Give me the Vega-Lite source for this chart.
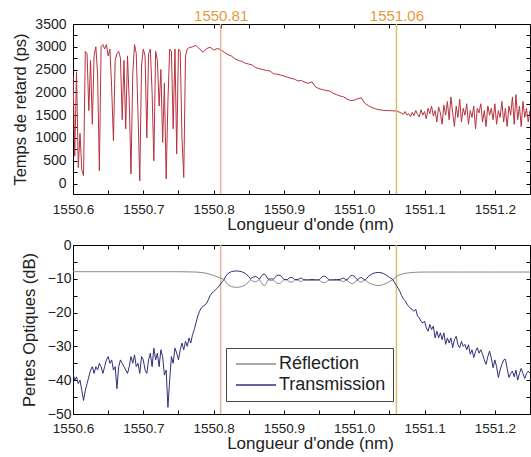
{
"$schema": "https://vega.github.io/schema/vega-lite/v6.json",
"padding": {"left": 12, "top": 8, "right": 0, "bottom": 0},
"bounds": "flush",
"spacing": 51,
"background": "#ffffff",
"config": {
  "view": {"stroke": "#000000", "strokeWidth": 1},
  "font": "Liberation Sans",
  "axis": {"grid": false, "domain": false, "tickSize": -4, "tickColor": "#000000", "tickWidth": 1,
    "labelFont": "Liberation Sans", "labelFontSize": 14, "labelColor": "#222222",
    "titleFont": "Liberation Sans", "titleFontSize": 17.5, "titleFontWeight": "normal", "titleColor": "#222222"}
},
"datasets": {
  "refs": [{"lambda": 1550.81, "label": "1550.81"}, {"lambda": 1551.06, "label": "1551.06"}],
  "delay": [
{"lambda":1550.6,"delay":2400},{"lambda":1550.6025,"delay":600},{"lambda":1550.605,"delay":2450},{"lambda":1550.6075,"delay":350},{"lambda":1550.61,"delay":1100},{"lambda":1550.6125,"delay":300},{"lambda":1550.615,"delay":170},{"lambda":1550.6175,"delay":2900},{"lambda":1550.62,"delay":2850},{"lambda":1550.6225,"delay":1600},{"lambda":1550.625,"delay":2700},{"lambda":1550.6275,"delay":1300},{"lambda":1550.63,"delay":2800},{"lambda":1550.6325,"delay":3000},{"lambda":1550.635,"delay":2400},{"lambda":1550.6375,"delay":280},{"lambda":1550.64,"delay":3000},{"lambda":1550.6425,"delay":3050},{"lambda":1550.645,"delay":2950},{"lambda":1550.6475,"delay":3050},{"lambda":1550.65,"delay":2800},{"lambda":1550.6525,"delay":2950},{"lambda":1550.655,"delay":2100},{"lambda":1550.6575,"delay":940},{"lambda":1550.66,"delay":2700},{"lambda":1550.6625,"delay":2850},{"lambda":1550.665,"delay":2900},{"lambda":1550.6675,"delay":2750},{"lambda":1550.67,"delay":1400},{"lambda":1550.6725,"delay":2700},{"lambda":1550.675,"delay":1200},{"lambda":1550.6775,"delay":2800},{"lambda":1550.68,"delay":1800},{"lambda":1550.6825,"delay":210},{"lambda":1550.685,"delay":2400},{"lambda":1550.6875,"delay":3050},{"lambda":1550.69,"delay":2850},{"lambda":1550.6925,"delay":1500},{"lambda":1550.695,"delay":60},{"lambda":1550.6975,"delay":2600},{"lambda":1550.7,"delay":2950},{"lambda":1550.7025,"delay":2800},{"lambda":1550.705,"delay":1000},{"lambda":1550.7075,"delay":2850},{"lambda":1550.71,"delay":2950},{"lambda":1550.7125,"delay":2000},{"lambda":1550.715,"delay":500},{"lambda":1550.7175,"delay":2900},{"lambda":1550.72,"delay":2700},{"lambda":1550.7225,"delay":1700},{"lambda":1550.725,"delay":2500},{"lambda":1550.7275,"delay":900},{"lambda":1550.73,"delay":2200},{"lambda":1550.7325,"delay":100},{"lambda":1550.735,"delay":1800},{"lambda":1550.7375,"delay":2950},{"lambda":1550.74,"delay":2900},{"lambda":1550.7425,"delay":1200},{"lambda":1550.745,"delay":2950},{"lambda":1550.7475,"delay":650},{"lambda":1550.75,"delay":2950},{"lambda":1550.7525,"delay":2900},{"lambda":1550.755,"delay":1000},{"lambda":1550.7575,"delay":130},{"lambda":1550.76,"delay":2800},{"lambda":1550.7625,"delay":2950},{"lambda":1550.765,"delay":2980},
{"lambda":1550.77,"delay":3000},{"lambda":1550.775,"delay":3030},{"lambda":1550.78,"delay":2950},{"lambda":1550.785,"delay":2880},{"lambda":1550.79,"delay":2960},{"lambda":1550.795,"delay":2990},{"lambda":1550.8,"delay":2930},{"lambda":1550.805,"delay":2960},{"lambda":1550.81,"delay":2940},{"lambda":1550.815,"delay":2880},{"lambda":1550.82,"delay":2830},{"lambda":1550.825,"delay":2800},{"lambda":1550.83,"delay":2740},{"lambda":1550.835,"delay":2700},{"lambda":1550.84,"delay":2680},{"lambda":1550.845,"delay":2640},{"lambda":1550.85,"delay":2620},{"lambda":1550.855,"delay":2600},{"lambda":1550.86,"delay":2540},{"lambda":1550.865,"delay":2520},{"lambda":1550.87,"delay":2500},{"lambda":1550.875,"delay":2480},{"lambda":1550.88,"delay":2470},{"lambda":1550.885,"delay":2410},{"lambda":1550.89,"delay":2400},{"lambda":1550.895,"delay":2380},{"lambda":1550.9,"delay":2360},{"lambda":1550.905,"delay":2330},{"lambda":1550.91,"delay":2310},{"lambda":1550.915,"delay":2290},{"lambda":1550.92,"delay":2250},{"lambda":1550.925,"delay":2260},{"lambda":1550.93,"delay":2220},{"lambda":1550.935,"delay":2200},{"lambda":1550.94,"delay":2230},{"lambda":1550.945,"delay":2120},{"lambda":1550.95,"delay":2080},{"lambda":1550.955,"delay":2060},{"lambda":1550.96,"delay":2040},{"lambda":1550.965,"delay":2030},{"lambda":1550.97,"delay":1980},{"lambda":1550.975,"delay":1950},{"lambda":1550.98,"delay":1920},{"lambda":1550.985,"delay":1900},{"lambda":1550.99,"delay":1850},{"lambda":1550.995,"delay":1820},{"lambda":1551.0,"delay":1830},{"lambda":1551.005,"delay":1860},{"lambda":1551.01,"delay":1880},{"lambda":1551.015,"delay":1760},{"lambda":1551.02,"delay":1710},{"lambda":1551.025,"delay":1670},{"lambda":1551.03,"delay":1640},{"lambda":1551.035,"delay":1620},{"lambda":1551.04,"delay":1610},{"lambda":1551.045,"delay":1600},{"lambda":1551.05,"delay":1600},{"lambda":1551.055,"delay":1595},{"lambda":1551.06,"delay":1590},{"lambda":1551.065,"delay":1560},
{"lambda":1551.0675,"delay":1540},{"lambda":1551.07,"delay":1520},{"lambda":1551.0725,"delay":1580},{"lambda":1551.075,"delay":1500},{"lambda":1551.0775,"delay":1530},{"lambda":1551.08,"delay":1470},{"lambda":1551.0825,"delay":1560},{"lambda":1551.085,"delay":1490},{"lambda":1551.0875,"delay":1600},{"lambda":1551.09,"delay":1520},{"lambda":1551.0925,"delay":1460},{"lambda":1551.095,"delay":1620},{"lambda":1551.0975,"delay":1500},{"lambda":1551.1,"delay":1580},{"lambda":1551.1025,"delay":1420},{"lambda":1551.105,"delay":1650},{"lambda":1551.1075,"delay":1530},{"lambda":1551.11,"delay":1700},{"lambda":1551.1125,"delay":1480},{"lambda":1551.115,"delay":1600},{"lambda":1551.1175,"delay":1350},{"lambda":1551.12,"delay":1680},{"lambda":1551.1225,"delay":1550},{"lambda":1551.125,"delay":1300},{"lambda":1551.1275,"delay":1720},{"lambda":1551.13,"delay":1500},{"lambda":1551.1325,"delay":1800},{"lambda":1551.135,"delay":1400},{"lambda":1551.1375,"delay":1900},{"lambda":1551.14,"delay":1550},{"lambda":1551.1425,"delay":1250},{"lambda":1551.145,"delay":1700},{"lambda":1551.1475,"delay":1450},{"lambda":1551.15,"delay":1850},{"lambda":1551.1525,"delay":1350},{"lambda":1551.155,"delay":1650},{"lambda":1551.1575,"delay":1500},{"lambda":1551.16,"delay":1750},{"lambda":1551.1625,"delay":1300},{"lambda":1551.165,"delay":1600},{"lambda":1551.1675,"delay":1450},{"lambda":1551.17,"delay":1700},{"lambda":1551.1725,"delay":1200},{"lambda":1551.175,"delay":1650},{"lambda":1551.1775,"delay":1550},{"lambda":1551.18,"delay":1750},{"lambda":1551.1825,"delay":1350},{"lambda":1551.185,"delay":1600},{"lambda":1551.1875,"delay":1250},{"lambda":1551.19,"delay":1700},{"lambda":1551.1925,"delay":1500},{"lambda":1551.195,"delay":1650},{"lambda":1551.1975,"delay":1400},{"lambda":1551.2,"delay":1750},{"lambda":1551.2025,"delay":1300},{"lambda":1551.205,"delay":1600},{"lambda":1551.2075,"delay":1450},{"lambda":1551.21,"delay":1800},{"lambda":1551.2125,"delay":1350},{"lambda":1551.215,"delay":1650},{"lambda":1551.2175,"delay":1250},{"lambda":1551.22,"delay":1700},{"lambda":1551.2225,"delay":1500},{"lambda":1551.225,"delay":1900},{"lambda":1551.2275,"delay":1300},{"lambda":1551.23,"delay":1950},{"lambda":1551.2325,"delay":1400},{"lambda":1551.235,"delay":1700},{"lambda":1551.2375,"delay":1250},{"lambda":1551.24,"delay":1800},{"lambda":1551.2425,"delay":1450},{"lambda":1551.245,"delay":1650},{"lambda":1551.2475,"delay":1350},{"lambda":1551.25,"delay":1600}
  ],
  "loss": [
{"series":"Réflection","lambda":1550.6,"dB":-7.9},{"series":"Réflection","lambda":1550.65,"dB":-7.9},{"series":"Réflection","lambda":1550.7,"dB":-7.9},{"series":"Réflection","lambda":1550.75,"dB":-7.9},{"series":"Réflection","lambda":1550.765,"dB":-7.95},{"series":"Réflection","lambda":1550.775,"dB":-8.0},{"series":"Réflection","lambda":1550.785,"dB":-8.2},{"series":"Réflection","lambda":1550.79,"dB":-8.4},{"series":"Réflection","lambda":1550.795,"dB":-8.7},{"series":"Réflection","lambda":1550.8,"dB":-9.0},{"series":"Réflection","lambda":1550.805,"dB":-9.4},{"series":"Réflection","lambda":1550.81,"dB":-9.8},
{"series":"Transmission","lambda":1550.6,"dB":-38},{"series":"Transmission","lambda":1550.6025,"dB":-40},{"series":"Transmission","lambda":1550.605,"dB":-39},{"series":"Transmission","lambda":1550.6075,"dB":-41},{"series":"Transmission","lambda":1550.61,"dB":-40},{"series":"Transmission","lambda":1550.6125,"dB":-43},{"series":"Transmission","lambda":1550.615,"dB":-46},{"series":"Transmission","lambda":1550.6175,"dB":-43},{"series":"Transmission","lambda":1550.62,"dB":-41},{"series":"Transmission","lambda":1550.6225,"dB":-39},{"series":"Transmission","lambda":1550.625,"dB":-37},{"series":"Transmission","lambda":1550.6275,"dB":-36},{"series":"Transmission","lambda":1550.63,"dB":-38},{"series":"Transmission","lambda":1550.6325,"dB":-36},{"series":"Transmission","lambda":1550.635,"dB":-37},{"series":"Transmission","lambda":1550.6375,"dB":-35},{"series":"Transmission","lambda":1550.64,"dB":-36},{"series":"Transmission","lambda":1550.6425,"dB":-38},{"series":"Transmission","lambda":1550.645,"dB":-36},{"series":"Transmission","lambda":1550.6475,"dB":-34},{"series":"Transmission","lambda":1550.65,"dB":-33},{"series":"Transmission","lambda":1550.6525,"dB":-35},{"series":"Transmission","lambda":1550.655,"dB":-34},{"series":"Transmission","lambda":1550.6575,"dB":-37},{"series":"Transmission","lambda":1550.66,"dB":-36},{"series":"Transmission","lambda":1550.6625,"dB":-42.5},{"series":"Transmission","lambda":1550.665,"dB":-36},{"series":"Transmission","lambda":1550.6675,"dB":-34},{"series":"Transmission","lambda":1550.67,"dB":-35},{"series":"Transmission","lambda":1550.6725,"dB":-36},{"series":"Transmission","lambda":1550.675,"dB":-37},{"series":"Transmission","lambda":1550.6775,"dB":-38},{"series":"Transmission","lambda":1550.68,"dB":-36},{"series":"Transmission","lambda":1550.6825,"dB":-33},{"series":"Transmission","lambda":1550.685,"dB":-35},{"series":"Transmission","lambda":1550.6875,"dB":-32.5},{"series":"Transmission","lambda":1550.69,"dB":-36},{"series":"Transmission","lambda":1550.6925,"dB":-35},{"series":"Transmission","lambda":1550.695,"dB":-38},{"series":"Transmission","lambda":1550.6975,"dB":-33},{"series":"Transmission","lambda":1550.7,"dB":-34},{"series":"Transmission","lambda":1550.7025,"dB":-37},{"series":"Transmission","lambda":1550.705,"dB":-38},{"series":"Transmission","lambda":1550.7075,"dB":-34},{"series":"Transmission","lambda":1550.71,"dB":-32},{"series":"Transmission","lambda":1550.7125,"dB":-36},{"series":"Transmission","lambda":1550.715,"dB":-30.5},{"series":"Transmission","lambda":1550.7175,"dB":-34},{"series":"Transmission","lambda":1550.72,"dB":-32},{"series":"Transmission","lambda":1550.7225,"dB":-36},{"series":"Transmission","lambda":1550.725,"dB":-31},{"series":"Transmission","lambda":1550.7275,"dB":-33},{"series":"Transmission","lambda":1550.73,"dB":-38.5},{"series":"Transmission","lambda":1550.7325,"dB":-37},{"series":"Transmission","lambda":1550.735,"dB":-48},{"series":"Transmission","lambda":1550.7375,"dB":-40},{"series":"Transmission","lambda":1550.74,"dB":-33},{"series":"Transmission","lambda":1550.7425,"dB":-35},{"series":"Transmission","lambda":1550.745,"dB":-30.5},{"series":"Transmission","lambda":1550.7475,"dB":-32},{"series":"Transmission","lambda":1550.75,"dB":-34},{"series":"Transmission","lambda":1550.7525,"dB":-31},{"series":"Transmission","lambda":1550.755,"dB":-29},{"series":"Transmission","lambda":1550.7575,"dB":-31},{"series":"Transmission","lambda":1550.76,"dB":-28.5},{"series":"Transmission","lambda":1550.7625,"dB":-30},{"series":"Transmission","lambda":1550.765,"dB":-27.5},{"series":"Transmission","lambda":1550.7675,"dB":-29},{"series":"Transmission","lambda":1550.77,"dB":-26.5},{"series":"Transmission","lambda":1550.7725,"dB":-25},{"series":"Transmission","lambda":1550.775,"dB":-23},{"series":"Transmission","lambda":1550.7775,"dB":-21},{"series":"Transmission","lambda":1550.78,"dB":-19.6},{"series":"Transmission","lambda":1550.7825,"dB":-18.6},{"series":"Transmission","lambda":1550.785,"dB":-18.1},{"series":"Transmission","lambda":1550.7875,"dB":-17.8},{"series":"Transmission","lambda":1550.79,"dB":-17.2},{"series":"Transmission","lambda":1550.7925,"dB":-16.2},{"series":"Transmission","lambda":1550.795,"dB":-15},{"series":"Transmission","lambda":1550.7975,"dB":-14.2},{"series":"Transmission","lambda":1550.8,"dB":-13.8},{"series":"Transmission","lambda":1550.8025,"dB":-13.3},{"series":"Transmission","lambda":1550.805,"dB":-12.8},{"series":"Transmission","lambda":1550.8075,"dB":-12.2},{"series":"Transmission","lambda":1550.81,"dB":-11.5},{"series":"Transmission","lambda":1550.8125,"dB":-10.8},
{"series":"Transmission","lambda":1550.815,"dB":-10.2},{"series":"Réflection","lambda":1550.815,"dB":-10.2},
{"series":"Transmission","lambda":1550.8175,"dB":-9.2},{"series":"Réflection","lambda":1550.8175,"dB":-11.0},
{"series":"Transmission","lambda":1550.82,"dB":-8.5},{"series":"Réflection","lambda":1550.82,"dB":-11.7},
{"series":"Transmission","lambda":1550.825,"dB":-7.9},{"series":"Réflection","lambda":1550.825,"dB":-12.3},
{"series":"Transmission","lambda":1550.83,"dB":-7.7},{"series":"Réflection","lambda":1550.83,"dB":-12.5},
{"series":"Transmission","lambda":1550.835,"dB":-7.7},{"series":"Réflection","lambda":1550.835,"dB":-12.5},
{"series":"Transmission","lambda":1550.84,"dB":-7.9},{"series":"Réflection","lambda":1550.84,"dB":-12.3},
{"series":"Transmission","lambda":1550.845,"dB":-8.4},{"series":"Réflection","lambda":1550.845,"dB":-11.8},
{"series":"Transmission","lambda":1550.85,"dB":-9.3},{"series":"Réflection","lambda":1550.85,"dB":-10.9},
{"series":"Transmission","lambda":1550.8525,"dB":-10.0},{"series":"Réflection","lambda":1550.8525,"dB":-10.2},
{"series":"Transmission","lambda":1550.855,"dB":-9.6},{"series":"Réflection","lambda":1550.855,"dB":-10.6},
{"series":"Transmission","lambda":1550.86,"dB":-9.3},{"series":"Réflection","lambda":1550.86,"dB":-10.9},
{"series":"Transmission","lambda":1550.8625,"dB":-9.6},{"series":"Réflection","lambda":1550.8625,"dB":-10.6},
{"series":"Transmission","lambda":1550.865,"dB":-10.1},{"series":"Réflection","lambda":1550.865,"dB":-10.2},
{"series":"Transmission","lambda":1550.8675,"dB":-9.4},{"series":"Réflection","lambda":1550.8675,"dB":-11.0},
{"series":"Transmission","lambda":1550.87,"dB":-8.7},{"series":"Réflection","lambda":1550.87,"dB":-11.8},
{"series":"Transmission","lambda":1550.8725,"dB":-8.6},{"series":"Réflection","lambda":1550.8725,"dB":-12.0},
{"series":"Transmission","lambda":1550.875,"dB":-9.2},{"series":"Réflection","lambda":1550.875,"dB":-11.3},
{"series":"Transmission","lambda":1550.8775,"dB":-10.1},{"series":"Réflection","lambda":1550.8775,"dB":-10.3},
{"series":"Transmission","lambda":1550.88,"dB":-10.1},{"series":"Réflection","lambda":1550.88,"dB":-10.4},
{"series":"Transmission","lambda":1550.8825,"dB":-10.0},{"series":"Réflection","lambda":1550.8825,"dB":-10.5},
{"series":"Transmission","lambda":1550.885,"dB":-10.1},{"series":"Réflection","lambda":1550.885,"dB":-10.4},
{"series":"Transmission","lambda":1550.8875,"dB":-9.6},{"series":"Réflection","lambda":1550.8875,"dB":-10.8},
{"series":"Transmission","lambda":1550.89,"dB":-9.0},{"series":"Réflection","lambda":1550.89,"dB":-11.3},
{"series":"Transmission","lambda":1550.8925,"dB":-8.9},{"series":"Réflection","lambda":1550.8925,"dB":-11.4},
{"series":"Transmission","lambda":1550.895,"dB":-9.0},{"series":"Réflection","lambda":1550.895,"dB":-11.3},
{"series":"Transmission","lambda":1550.8975,"dB":-9.6},{"series":"Réflection","lambda":1550.8975,"dB":-10.8},
{"series":"Transmission","lambda":1550.9,"dB":-10.2},{"series":"Réflection","lambda":1550.9,"dB":-10.3},
{"series":"Transmission","lambda":1550.905,"dB":-10.2},{"series":"Réflection","lambda":1550.905,"dB":-10.4},
{"series":"Transmission","lambda":1550.9075,"dB":-9.8},{"series":"Réflection","lambda":1550.9075,"dB":-10.8},
{"series":"Transmission","lambda":1550.91,"dB":-9.6},{"series":"Réflection","lambda":1550.91,"dB":-11.0},
{"series":"Transmission","lambda":1550.9125,"dB":-9.7},{"series":"Réflection","lambda":1550.9125,"dB":-10.9},
{"series":"Transmission","lambda":1550.915,"dB":-10.2},{"series":"Réflection","lambda":1550.915,"dB":-10.4},
{"series":"Transmission","lambda":1550.92,"dB":-10.2},{"series":"Réflection","lambda":1550.92,"dB":-10.4},
{"series":"Transmission","lambda":1550.9225,"dB":-9.9},{"series":"Réflection","lambda":1550.9225,"dB":-10.7},
{"series":"Transmission","lambda":1550.925,"dB":-9.8},{"series":"Réflection","lambda":1550.925,"dB":-10.8},
{"series":"Transmission","lambda":1550.9275,"dB":-10.2},{"series":"Réflection","lambda":1550.9275,"dB":-10.4},
{"series":"Transmission","lambda":1550.93,"dB":-10.3},{"series":"Réflection","lambda":1550.93,"dB":-10.4},
{"series":"Transmission","lambda":1550.935,"dB":-10.3},{"series":"Réflection","lambda":1550.935,"dB":-10.4},
{"series":"Transmission","lambda":1550.94,"dB":-10.2},{"series":"Réflection","lambda":1550.94,"dB":-10.5},
{"series":"Transmission","lambda":1550.945,"dB":-10.3},{"series":"Réflection","lambda":1550.945,"dB":-10.4},
{"series":"Transmission","lambda":1550.95,"dB":-10.3},{"series":"Réflection","lambda":1550.95,"dB":-10.4},
{"series":"Transmission","lambda":1550.9525,"dB":-9.8},{"series":"Réflection","lambda":1550.9525,"dB":-10.8},
{"series":"Transmission","lambda":1550.955,"dB":-9.3},{"series":"Réflection","lambda":1550.955,"dB":-11.1},
{"series":"Transmission","lambda":1550.9575,"dB":-9.2},{"series":"Réflection","lambda":1550.9575,"dB":-11.2},
{"series":"Transmission","lambda":1550.96,"dB":-9.4},{"series":"Réflection","lambda":1550.96,"dB":-11.0},
{"series":"Transmission","lambda":1550.9625,"dB":-10.0},{"series":"Réflection","lambda":1550.9625,"dB":-10.5},
{"series":"Transmission","lambda":1550.965,"dB":-10.3},{"series":"Réflection","lambda":1550.965,"dB":-10.4},
{"series":"Transmission","lambda":1550.97,"dB":-10.3},{"series":"Réflection","lambda":1550.97,"dB":-10.4},
{"series":"Transmission","lambda":1550.975,"dB":-10.2},{"series":"Réflection","lambda":1550.975,"dB":-10.5},
{"series":"Transmission","lambda":1550.98,"dB":-10.2},{"series":"Réflection","lambda":1550.98,"dB":-10.5},
{"series":"Transmission","lambda":1550.9825,"dB":-9.9},{"series":"Réflection","lambda":1550.9825,"dB":-10.7},
{"series":"Transmission","lambda":1550.985,"dB":-9.8},{"series":"Réflection","lambda":1550.985,"dB":-10.8},
{"series":"Transmission","lambda":1550.9875,"dB":-10.2},{"series":"Réflection","lambda":1550.9875,"dB":-10.5},
{"series":"Transmission","lambda":1550.99,"dB":-10.3},{"series":"Réflection","lambda":1550.99,"dB":-10.4},
{"series":"Transmission","lambda":1550.9925,"dB":-9.6},{"series":"Réflection","lambda":1550.9925,"dB":-11.0},
{"series":"Transmission","lambda":1550.995,"dB":-9.1},{"series":"Réflection","lambda":1550.995,"dB":-11.3},
{"series":"Transmission","lambda":1550.9975,"dB":-9.0},{"series":"Réflection","lambda":1550.9975,"dB":-11.4},
{"series":"Transmission","lambda":1551.0,"dB":-9.2},{"series":"Réflection","lambda":1551.0,"dB":-11.2},
{"series":"Transmission","lambda":1551.0025,"dB":-9.9},{"series":"Réflection","lambda":1551.0025,"dB":-10.6},
{"series":"Transmission","lambda":1551.005,"dB":-10.3},{"series":"Réflection","lambda":1551.005,"dB":-10.4},
{"series":"Transmission","lambda":1551.0075,"dB":-9.8},{"series":"Réflection","lambda":1551.0075,"dB":-10.8},
{"series":"Transmission","lambda":1551.01,"dB":-9.6},{"series":"Réflection","lambda":1551.01,"dB":-11.0},
{"series":"Transmission","lambda":1551.0125,"dB":-10.0},{"series":"Réflection","lambda":1551.0125,"dB":-10.6},
{"series":"Transmission","lambda":1551.015,"dB":-10.3},{"series":"Réflection","lambda":1551.015,"dB":-10.4},
{"series":"Transmission","lambda":1551.0175,"dB":-10.0},{"series":"Réflection","lambda":1551.0175,"dB":-10.6},
{"series":"Transmission","lambda":1551.02,"dB":-9.3},{"series":"Réflection","lambda":1551.02,"dB":-11.1},
{"series":"Transmission","lambda":1551.025,"dB":-8.6},{"series":"Réflection","lambda":1551.025,"dB":-11.6},
{"series":"Transmission","lambda":1551.03,"dB":-8.2},{"series":"Réflection","lambda":1551.03,"dB":-11.9},
{"series":"Transmission","lambda":1551.035,"dB":-8.1},{"series":"Réflection","lambda":1551.035,"dB":-12.0},
{"series":"Transmission","lambda":1551.04,"dB":-8.3},{"series":"Réflection","lambda":1551.04,"dB":-11.8},
{"series":"Transmission","lambda":1551.045,"dB":-8.8},{"series":"Réflection","lambda":1551.045,"dB":-11.4},
{"series":"Transmission","lambda":1551.05,"dB":-9.6},{"series":"Réflection","lambda":1551.05,"dB":-10.8},
{"series":"Transmission","lambda":1551.055,"dB":-10.2},{"series":"Réflection","lambda":1551.055,"dB":-10.3},
{"series":"Réflection","lambda":1551.06,"dB":-9.3},{"series":"Réflection","lambda":1551.065,"dB":-8.8},{"series":"Réflection","lambda":1551.07,"dB":-8.5},{"series":"Réflection","lambda":1551.075,"dB":-8.3},{"series":"Réflection","lambda":1551.08,"dB":-8.15},{"series":"Réflection","lambda":1551.09,"dB":-8.05},{"series":"Réflection","lambda":1551.1,"dB":-8.0},{"series":"Réflection","lambda":1551.15,"dB":-8.0},{"series":"Réflection","lambda":1551.2,"dB":-8.0},{"series":"Réflection","lambda":1551.25,"dB":-8.0},
{"series":"Transmission","lambda":1551.0575,"dB":-11.2},{"series":"Transmission","lambda":1551.06,"dB":-12},{"series":"Transmission","lambda":1551.0625,"dB":-12.8},{"series":"Transmission","lambda":1551.065,"dB":-13.8},{"series":"Transmission","lambda":1551.0675,"dB":-15},{"series":"Transmission","lambda":1551.07,"dB":-16},{"series":"Transmission","lambda":1551.0725,"dB":-16.5},{"series":"Transmission","lambda":1551.075,"dB":-17.5},{"series":"Transmission","lambda":1551.0775,"dB":-18.2},{"series":"Transmission","lambda":1551.08,"dB":-18.6},{"series":"Transmission","lambda":1551.0825,"dB":-19.2},{"series":"Transmission","lambda":1551.085,"dB":-19.6},{"series":"Transmission","lambda":1551.0875,"dB":-19},{"series":"Transmission","lambda":1551.09,"dB":-21},{"series":"Transmission","lambda":1551.0925,"dB":-21.6},{"series":"Transmission","lambda":1551.095,"dB":-22.5},{"series":"Transmission","lambda":1551.0975,"dB":-23.1},{"series":"Transmission","lambda":1551.1,"dB":-22.5},{"series":"Transmission","lambda":1551.1025,"dB":-24.5},{"series":"Transmission","lambda":1551.105,"dB":-25.5},{"series":"Transmission","lambda":1551.1075,"dB":-23.5},{"series":"Transmission","lambda":1551.11,"dB":-25},{"series":"Transmission","lambda":1551.1125,"dB":-24},{"series":"Transmission","lambda":1551.115,"dB":-27.5},{"series":"Transmission","lambda":1551.1175,"dB":-25.5},{"series":"Transmission","lambda":1551.12,"dB":-27.5},{"series":"Transmission","lambda":1551.1225,"dB":-26},{"series":"Transmission","lambda":1551.125,"dB":-28},{"series":"Transmission","lambda":1551.1275,"dB":-26},{"series":"Transmission","lambda":1551.13,"dB":-29.4},{"series":"Transmission","lambda":1551.1325,"dB":-27.5},{"series":"Transmission","lambda":1551.135,"dB":-29},{"series":"Transmission","lambda":1551.1375,"dB":-27.5},{"series":"Transmission","lambda":1551.14,"dB":-30.4},{"series":"Transmission","lambda":1551.1425,"dB":-28},{"series":"Transmission","lambda":1551.145,"dB":-27},{"series":"Transmission","lambda":1551.1475,"dB":-29.5},{"series":"Transmission","lambda":1551.15,"dB":-30.4},{"series":"Transmission","lambda":1551.1525,"dB":-28.5},{"series":"Transmission","lambda":1551.155,"dB":-30},{"series":"Transmission","lambda":1551.1575,"dB":-29.4},{"series":"Transmission","lambda":1551.16,"dB":-31},{"series":"Transmission","lambda":1551.1625,"dB":-29.5},{"series":"Transmission","lambda":1551.165,"dB":-32.3},{"series":"Transmission","lambda":1551.1675,"dB":-31},{"series":"Transmission","lambda":1551.17,"dB":-33.3},{"series":"Transmission","lambda":1551.1725,"dB":-31.5},{"series":"Transmission","lambda":1551.175,"dB":-30.4},{"series":"Transmission","lambda":1551.1775,"dB":-32},{"series":"Transmission","lambda":1551.18,"dB":-31},{"series":"Transmission","lambda":1551.1825,"dB":-32.3},{"series":"Transmission","lambda":1551.185,"dB":-34},{"series":"Transmission","lambda":1551.1875,"dB":-35.3},{"series":"Transmission","lambda":1551.19,"dB":-33},{"series":"Transmission","lambda":1551.1925,"dB":-31.4},{"series":"Transmission","lambda":1551.195,"dB":-33.5},{"series":"Transmission","lambda":1551.1975,"dB":-36.3},{"series":"Transmission","lambda":1551.2,"dB":-34},{"series":"Transmission","lambda":1551.2025,"dB":-36},{"series":"Transmission","lambda":1551.205,"dB":-39.2},{"series":"Transmission","lambda":1551.2075,"dB":-37},{"series":"Transmission","lambda":1551.21,"dB":-35.3},{"series":"Transmission","lambda":1551.2125,"dB":-34},{"series":"Transmission","lambda":1551.215,"dB":-33.8},{"series":"Transmission","lambda":1551.2175,"dB":-36.5},{"series":"Transmission","lambda":1551.22,"dB":-39.2},{"series":"Transmission","lambda":1551.2225,"dB":-38},{"series":"Transmission","lambda":1551.225,"dB":-37.3},{"series":"Transmission","lambda":1551.2275,"dB":-39},{"series":"Transmission","lambda":1551.23,"dB":-37},{"series":"Transmission","lambda":1551.2325,"dB":-40},{"series":"Transmission","lambda":1551.235,"dB":-38},{"series":"Transmission","lambda":1551.2375,"dB":-36.5},{"series":"Transmission","lambda":1551.24,"dB":-38},{"series":"Transmission","lambda":1551.2425,"dB":-39.5},{"series":"Transmission","lambda":1551.245,"dB":-38},{"series":"Transmission","lambda":1551.2475,"dB":-37.3},{"series":"Transmission","lambda":1551.25,"dB":-38}
  ]
},
"resolve": {"scale": {"color": "independent", "stroke": "independent"}, "legend": {"color": "independent"}},
"vconcat": [
  {
    "width": 457, "height": 170,
    "layer": [
      {
        "data": {"name": "delay"},
        "mark": {"type": "line", "color": "#b8323e", "strokeWidth": 1, "clip": true},
        "encoding": {
          "x": {"field": "lambda", "type": "quantitative", "scale": {"domain": [1550.6, 1551.25], "nice": false, "zero": false},
            "axis": {"orient": "bottom", "title": "Longueur d'onde (nm)", "titleX": 237, "titleFontSize": 17, "labelFontSize": 13.5, "values": [1550.6,1550.65,1550.7,1550.75,1550.8,1550.85,1550.9,1550.95,1551.0,1551.05,1551.1,1551.15,1551.2],
              "labelExpr": "abs(datum.value*10 - round(datum.value*10)) < 0.001 ? format(datum.value, '.1f') : ''", "labelPadding": 12, "titlePadding": 1, "labelFlush": false, "labelOverlap": false}},
          "y": {"field": "delay", "type": "quantitative", "scale": {"domain": [-230, 3500], "nice": false, "zero": false},
            "axis": {"orient": "left", "title": "Temps de retard (ps)", "titleFontSize": 16.5, "values": [0,250,500,750,1000,1250,1500,1750,2000,2250,2500,2750,3000,3250,3500],
              "labelExpr": "datum.value % 500 == 0 ? format(datum.value, 'd') : ''", "labelPadding": 11, "titlePadding": 6, "labelOverlap": false}}
        }
      },
      {
        "data": {"name": "refs"},
        "mark": {"type": "rule", "strokeWidth": 1.5},
        "encoding": {
          "x": {"field": "lambda", "type": "quantitative", "scale": {"domain": [1550.6, 1551.25], "nice": false, "zero": false},
            "axis": {"orient": "top", "title": null, "values": [1550.6,1550.65,1550.7,1550.75,1550.8,1550.81,1550.85,1550.9,1550.95,1551.0,1551.05,1551.06,1551.1,1551.15,1551.2],
              "labelExpr": "datum.value == 1550.81 ? '1550.81' : datum.value == 1551.06 ? '1551.06' : ''", "labelColor": "#e39b3a", "labelFontSize": 15, "labelPadding": 4.5, "labelOverlap": false, "labelFlush": false}},
          "y": {"datum": -230, "type": "quantitative", "axis": {"orient": "right", "title": null, "labels": false, "values": [0,250,500,750,1000,1250,1500,1750,2000,2250,2500,2750,3000,3250,3500]}},
          "y2": {"datum": 3500},
          "stroke": {"field": "label", "type": "nominal", "scale": {"domain": ["1550.81", "1551.06"], "range": ["#e8b496", "#d9bf6a"]}, "legend": null}
        }
      }
    ],
    "resolve": {"axis": {"x": "independent", "y": "independent"}}
  },
  {
    "width": 457, "height": 169,
    "layer": [
      {
        "data": {"name": "refs"},
        "mark": {"type": "rule", "strokeWidth": 1.5},
        "encoding": {
          "x": {"field": "lambda", "type": "quantitative", "scale": {"domain": [1550.6, 1551.25], "nice": false, "zero": false},
            "axis": {"orient": "top", "title": null, "labels": false, "values": [1550.6,1550.65,1550.7,1550.75,1550.8,1550.85,1550.9,1550.95,1551.0,1551.05,1551.1,1551.15,1551.2]}},
          "y": {"datum": -50, "type": "quantitative", "scale": {"domain": [-50, 0], "nice": false, "zero": false}, "axis": {"orient": "right", "title": null, "labels": false, "values": [-50,-45,-40,-35,-30,-25,-20,-15,-10,-5,0]}},
          "y2": {"datum": 0},
          "stroke": {"field": "label", "type": "nominal", "scale": {"domain": ["1550.81", "1551.06"], "range": ["#e8b496", "#d9bf6a"]}, "legend": null}
        }
      },
      {
        "data": {"name": "loss"},
        "mark": {"type": "line", "strokeWidth": 1, "clip": true},
        "encoding": {
          "x": {"field": "lambda", "type": "quantitative", "scale": {"domain": [1550.6, 1551.25], "nice": false, "zero": false},
            "axis": {"orient": "bottom", "title": "Longueur d'onde (nm)", "titleX": 237, "titleFontSize": 17, "labelFontSize": 13.5, "values": [1550.6,1550.65,1550.7,1550.75,1550.8,1550.85,1550.9,1550.95,1551.0,1551.05,1551.1,1551.15,1551.2],
              "labelExpr": "abs(datum.value*10 - round(datum.value*10)) < 0.001 ? format(datum.value, '.1f') : ''", "labelPadding": 11, "titlePadding": 1, "labelFlush": false, "labelOverlap": false}},
          "y": {"field": "dB", "type": "quantitative", "scale": {"domain": [-50, 0], "nice": false, "zero": false},
            "axis": {"orient": "left", "title": "Pertes Optiques (dB)", "titleFontSize": 16.5, "values": [-50,-45,-40,-35,-30,-25,-20,-15,-10,-5,0],
              "labelExpr": "datum.value % 10 == 0 ? format(datum.value, 'd') : ''", "labelPadding": 6, "titlePadding": 10, "labelOverlap": false}},
          "color": {"field": "series", "type": "nominal", "scale": {"domain": ["Réflection", "Transmission"], "range": ["#8a8a8a", "#2f2f7a"]},
            "legend": {"orient": "none", "legendX": 153, "legendY": 103, "title": null, "symbolType": "M-0.75,0H4.25", "symbolSize": 256, "symbolStrokeWidth": 1.5,
              "labelFont": "Liberation Sans", "labelFontSize": 18, "labelColor": "#222222", "labelOffset": 28, "strokeColor": "#444444", "fillColor": "#ffffff", "padding": 7, "rowPadding": 3, "cornerRadius": 0,
              "encode": {"symbols": {"update": {"stroke": {"signal": "datum.value === 'Réflection' ? '#c4c4c4' : '#333333'"}}}}}}
        }
      }
    ],
    "resolve": {"axis": {"x": "independent", "y": "independent"}}
  }
]
}
